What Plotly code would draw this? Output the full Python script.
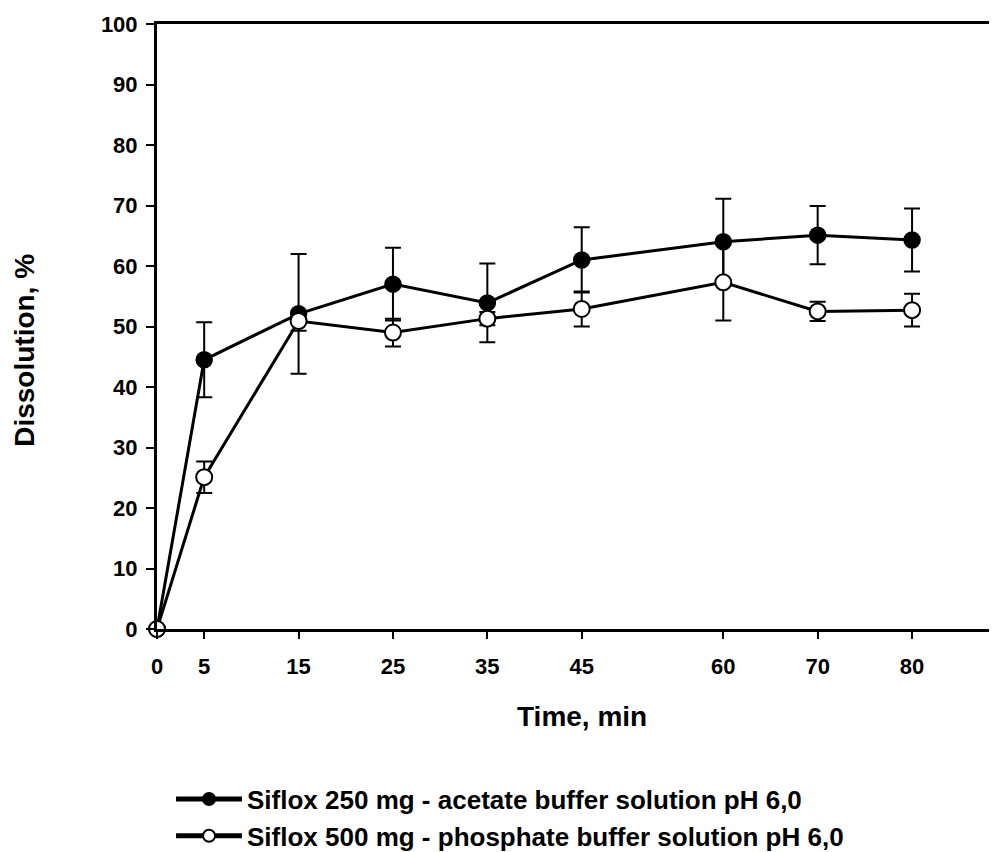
import plotly.graph_objects as go

time_min = [0, 5, 15, 25, 35, 45, 60, 70, 80]
acetate_250 = [0, 44.5, 52.1, 57.0, 53.9, 61.0, 64.0, 65.1, 64.3]
acetate_250_sd = [0, 6.2, 9.9, 6.0, 6.5, 5.4, 7.1, 4.8, 5.2]
phosphate_500 = [0, 25.1, 50.9, 49.0, 51.3, 52.9, 57.3, 52.5, 52.7]
phosphate_500_sd = [0, 2.6, 1.6, 2.3, 1.1, 2.9, 6.3, 1.6, 2.7]
x_ticks = [0, 5, 15, 25, 35, 45, 60, 70, 80]
y_ticks = list(range(0, 101, 10))

FONT = "Liberation Sans, Arial, sans-serif"

fig = go.Figure()
fig.add_trace(go.Scatter(
    x=time_min, y=acetate_250, mode="lines+markers",
    name="Siflox 250 mg - acetate buffer solution pH 6,0",
    line=dict(color="black", width=3),
    marker=dict(symbol="circle", size=16, color="black", line=dict(color="black", width=1.5)),
    error_y=dict(type="data", array=acetate_250_sd, visible=True, color="black", thickness=2, width=8),
    cliponaxis=False,
))
fig.add_trace(go.Scatter(
    x=time_min, y=phosphate_500, mode="lines+markers",
    name="Siflox 500 mg - phosphate buffer solution pH 6,0",
    line=dict(color="black", width=3),
    marker=dict(symbol="circle", size=16, color="white", line=dict(color="black", width=2)),
    error_y=dict(type="data", array=phosphate_500_sd, visible=True, color="black", thickness=2, width=8),
    cliponaxis=False,
))

# page body has an 8px margin, so the figure is offset by (8, 8)
fig.update_layout(
    width=989, height=852,
    margin=dict(l=149, r=0, t=16, b=225),
    plot_bgcolor="white", paper_bgcolor="white",
    font=dict(family=FONT, color="black", size=22),
    showlegend=True,
    legend=dict(
        x=0.0167, y=-0.2422, xanchor="left", yanchor="top",
        font=dict(family=FONT, size=26, color="black", weight="bold"),
        bgcolor="rgba(0,0,0,0)", tracegroupgap=0, itemwidth=66,
        itemsizing="constant",
    ),
    xaxis=dict(
        range=[0, 89], tickvals=x_ticks, ticktext=[str(v) for v in x_ticks],
        showline=True, linecolor="black", linewidth=3, mirror=True,
        ticks="outside", ticklen=7, tickwidth=2, tickcolor="black",
        showgrid=False, zeroline=False,
        tickfont=dict(family=FONT, size=22, color="black", weight="bold"),
        ticklabelstandoff=9,
    ),
    yaxis=dict(
        range=[0, 100], tickvals=y_ticks,
        showline=True, linecolor="black", linewidth=3, mirror=False,
        ticks="outside", ticklen=8, tickwidth=2, tickcolor="black",
        showgrid=False, zeroline=False,
        tickfont=dict(family=FONT, size=22, color="black", weight="bold"),
        ticklabelstandoff=4,
    ),
    annotations=[
        dict(text="Time, min", xref="paper", yref="paper", x=0.506, y=-0.144,
             xanchor="center", yanchor="middle", showarrow=False,
             font=dict(family=FONT, size=28, color="black", weight="bold")),
        dict(text="Dissolution, %", xref="paper", yref="paper", x=-0.157, y=0.46,
             xanchor="center", yanchor="middle", showarrow=False, textangle=-90,
             font=dict(family=FONT, size=28, color="black", weight="bold")),
    ],
)

fig.write_html("out.html")
